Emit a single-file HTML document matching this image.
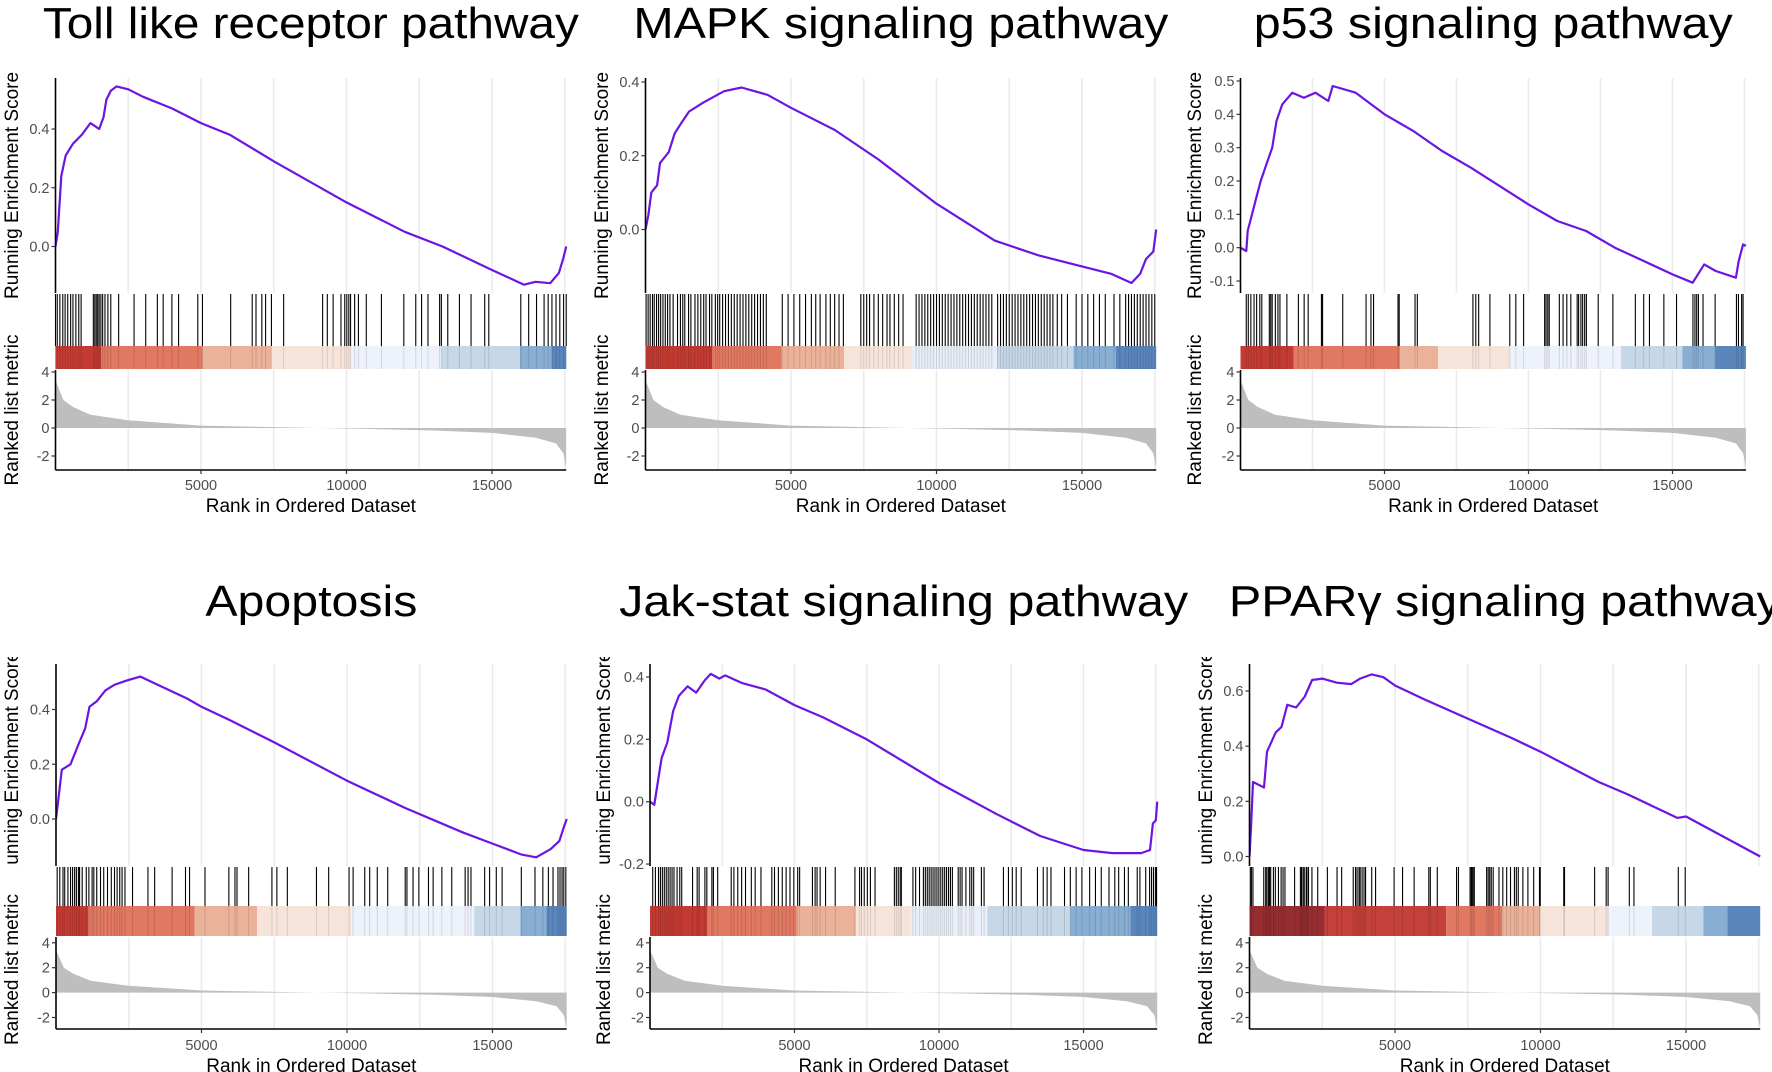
<!DOCTYPE html>
<html><head><meta charset="utf-8"><title>GSEA plots</title>
<style>
html,body{margin:0;padding:0;background:#fff;}
svg{display:block;font-family:"Liberation Sans",Arial,sans-serif;}
</style></head>
<body>
<svg id="fig" width="1772" height="1072" viewBox="0 0 1772 1072" xmlns="http://www.w3.org/2000/svg"></svg>
<script>
// ---------- shared data ----------
const xTicks = [5000, 10000, 15000];
const gridRanks = [2500, 5000, 7500, 10000, 12500, 15000, 17500];
const rankTicks = [-2, 0, 2, 4];
const metricRanks = [0, 40, 270, 600, 1200, 2500, 5000, 7800, 9000, 10500, 13000, 15000, 16500, 17200, 17450, 17550];
const metricValues = [3.4, 3.2, 2.0, 1.5, 0.95, 0.55, 0.17, 0.05, 0, -0.06, -0.18, -0.35, -0.7, -1.1, -1.8, -2.8];
const N = 17550;

// ---------- panel 1: Toll like receptor pathway ----------
const p1Title = "Toll like receptor pathway";
const p1EsRanks = [0, 80, 200, 350, 600, 900, 1200, 1500, 1650, 1750, 1900, 2100, 2500, 3000, 4000, 5000, 6000, 7500, 10000, 12000, 13300, 15000, 16100, 16500, 17000, 17300, 17450, 17550];
const p1EsValues = [0, 0.05, 0.24, 0.31, 0.35, 0.38, 0.42, 0.40, 0.44, 0.50, 0.53, 0.545, 0.535, 0.51, 0.47, 0.42, 0.38, 0.29, 0.15, 0.05, 0.0, -0.08, -0.13, -0.12, -0.125, -0.09, -0.04, 0.0];
const p1EsTicks = [0, 0.2, 0.4];
const p1Hits = [0, 60, 150, 250, 330, 420, 520, 600, 700, 800, 880, 1300, 1350, 1400, 1450, 1500, 1560, 1620, 1700, 1800, 1900, 2170, 2700, 3100, 3500, 3700, 4000, 4230, 4890, 5050, 6020, 6760, 6890, 7090, 7220, 7420, 7840, 9180, 9340, 9540, 9810, 9940, 10010, 10080, 10140, 10280, 10410, 10680, 11200, 11970, 12380, 12580, 12800, 13200, 13260, 13480, 13880, 14280, 14750, 14890, 15990, 16260, 16530, 16790, 16930, 17060, 17200, 17330, 17460, 17550];
const p1BandBreaks = [0, 1568, 5050, 7416, 10140, 13264, 15960, 17050, 17550];
const p1BandColors = ["#C33B33", "#E07862", "#EBB29A", "#F6E4DA", "#EEF2FB", "#C6D7E7", "#88AED3", "#5A86BC"];

// ---------- panel 2: MAPK ----------
const p2Title = "MAPK signaling pathway";
const p2EsRanks = [0, 100, 200, 400, 500, 800, 1000, 1200, 1500, 2000, 2700, 3300, 4200, 5000, 6500, 8000, 10000, 12000, 13500, 15000, 16000, 16700, 17000, 17200, 17450, 17550];
const p2EsValues = [0, 0.04, 0.1, 0.12, 0.18, 0.21, 0.26, 0.285, 0.32, 0.345, 0.375, 0.385, 0.365, 0.33, 0.27, 0.19, 0.07, -0.03, -0.07, -0.1, -0.12, -0.145, -0.12, -0.08, -0.06, 0.0];
const p2EsTicks = [0, 0.2, 0.4];
const p2Hits = [20, 90, 160, 240, 300, 380, 450, 520, 600, 680, 760, 840, 950, 1100, 1200, 1280, 1350, 1480, 1560, 1700, 1800, 1900, 2000, 2080, 2200, 2280, 2400, 2480, 2550, 2650, 2750, 2850, 2950, 3050, 3150, 3250, 3350, 3450, 3550, 3650, 3750, 3850, 3950, 4050, 4150, 4700, 4900, 5100, 5300, 5500, 5700, 5850, 6000, 6200, 6350, 6500, 6650, 6800, 7400, 7500, 7600, 7700, 7850, 8000, 8150, 8300, 8400, 8550, 8700, 8850, 9300, 9400, 9500, 9600, 9700, 9800, 9900, 10000, 10100, 10200, 10300, 10400, 10500, 10600, 10700, 10800, 10900, 11000, 11100, 11200, 11300, 11400, 11500, 11600, 11700, 11800, 11900, 12100, 12200, 12300, 12400, 12500, 12600, 12700, 12800, 12900, 13000, 13100, 13200, 13300, 13400, 13500, 13600, 13700, 13800, 13900, 14000, 14150, 14300, 14500, 14800, 15000, 15200, 15400, 15600, 15800, 16100, 16300, 16500, 16600, 16700, 16800, 16900, 17000, 17100, 17200, 17300, 17400, 17500];
const p2BandBreaks = [0, 2286, 4678, 6805, 9157, 12080, 14710, 16160, 17550];
const p2BandColors = ["#C33B33", "#E07862", "#EBB29A", "#F6E4DA", "#E9EDF8", "#C6D7E7", "#88AED3", "#5A86BC"];

// ---------- panel 3: p53 ----------
const p3Title = "p53 signaling pathway";
const p3EsRanks = [0, 200, 250, 400, 550, 700, 900, 1100, 1250, 1450, 1800, 2200, 2600, 3050, 3200, 4000, 5000, 6000, 7000, 8000, 10000, 11000, 12000, 13000, 14000, 15000, 15700, 16100, 16500, 17200, 17300, 17450, 17550];
const p3EsValues = [0, -0.01, 0.05, 0.1, 0.15, 0.2, 0.25, 0.3, 0.38, 0.43, 0.465, 0.45, 0.465, 0.44, 0.485, 0.465, 0.4, 0.35, 0.29, 0.24, 0.13, 0.08, 0.05, 0.0, -0.04, -0.08, -0.105, -0.05, -0.07, -0.09, -0.04, 0.01, 0.005];
const p3EsTicks = [-0.1, 0, 0.1, 0.2, 0.3, 0.4, 0.5];
const p3Hits = [200, 270, 360, 470, 560, 670, 740, 1000, 1050, 1100, 1210, 1300, 1370, 1610, 2010, 2210, 2350, 2810, 2850, 3550, 4360, 4530, 4620, 5470, 5510, 6060, 6140, 8070, 8170, 8270, 8660, 9350, 9560, 9830, 10560, 10610, 10670, 10720, 11070, 11200, 11330, 11470, 11690, 11740, 11820, 11880, 11950, 12010, 12420, 12930, 13710, 14000, 14200, 14700, 15140, 15710, 15780, 15840, 15900, 16060, 16480, 17220, 17290, 17400, 17450];
const p3BandBreaks = [0, 1850, 5530, 6860, 9340, 13210, 15340, 16480, 17550];
const p3BandColors = ["#C33B33", "#E07862", "#EBB29A", "#F6E4DA", "#EEF2FB", "#C6D7E7", "#88AED3", "#5A86BC"];

// ---------- panel 4: Apoptosis ----------
const p4Title = "Apoptosis";
const p4EsRanks = [0, 80, 200, 500, 800, 1000, 1150, 1400, 1700, 2000, 2400, 2900, 3500, 4500, 5000, 6000, 7500, 10000, 12000, 14000, 15000, 16000, 16500, 17000, 17300, 17450, 17550];
const p4EsValues = [0, 0.07, 0.18, 0.2, 0.28, 0.33, 0.41, 0.43, 0.47, 0.49, 0.505, 0.52, 0.49, 0.44, 0.41, 0.36, 0.28, 0.14, 0.04, -0.05, -0.09, -0.13, -0.14, -0.11, -0.08, -0.03, 0.0];
const p4EsTicks = [0, 0.2, 0.4];
const p4Hits = [40, 130, 240, 300, 410, 500, 570, 640, 700, 770, 810, 900, 1040, 1130, 1240, 1300, 1400, 1530, 1640, 1770, 1900, 2010, 2100, 2190, 2270, 2370, 2630, 3160, 3390, 3990, 4450, 4590, 5120, 5940, 6150, 6220, 6620, 7420, 7590, 7950, 8950, 9370, 10070, 10210, 10610, 10780, 11040, 11400, 12000, 12060, 12270, 12470, 12800, 12960, 13260, 13600, 14060, 14160, 14260, 14730, 14900, 15130, 15330, 15990, 16460, 16730, 16920, 17080, 17250, 17320, 17390, 17450, 17520];
const p4BandBreaks = [0, 1100, 4760, 6910, 10140, 14370, 15960, 16850, 17550];
const p4BandColors = ["#C33B33", "#E07862", "#EBB29A", "#F6E4DA", "#EEF2FB", "#C6D7E7", "#88AED3", "#5A86BC"];

// ---------- panel 5: Jak-stat ----------
const p5Title = "Jak-stat signaling pathway";
const p5EsRanks = [0, 150, 250, 400, 600, 800, 1000, 1300, 1600, 1900, 2100, 2400, 2600, 3200, 4000, 5000, 6000, 7500, 10000, 12000, 13500, 15000, 16000, 17000, 17300, 17400, 17500, 17550];
const p5EsValues = [0, -0.01, 0.05, 0.14, 0.19, 0.29, 0.34, 0.37, 0.35, 0.39, 0.41, 0.395, 0.405, 0.38, 0.36, 0.31, 0.27, 0.2, 0.06, -0.04, -0.11, -0.155, -0.165, -0.165, -0.155, -0.07, -0.06, 0.0];
const p5EsTicks = [-0.2, 0, 0.2, 0.4];
const p5Hits = [94, 187, 294, 361, 428, 495, 562, 629, 696, 763, 830, 937, 1030, 1097, 1472, 1632, 1699, 1900, 1967, 2141, 2194, 2342, 2810, 2903, 3037, 3171, 3305, 3506, 3639, 3840, 4215, 4308, 4442, 4576, 4710, 4844, 4977, 5111, 5178, 5620, 5713, 5780, 5887, 6075, 6409, 7091, 7252, 7319, 7413, 7520, 7627, 7787, 8456, 8523, 8590, 8657, 8697, 9098, 9192, 9326, 9460, 9527, 9594, 9660, 9727, 9794, 9861, 9928, 9995, 10062, 10129, 10196, 10262, 10330, 10396, 10463, 10664, 10731, 10798, 10931, 11065, 11132, 11199, 11467, 11560, 12229, 12403, 12537, 12671, 12845, 13407, 13607, 13741, 13875, 14343, 14544, 14745, 14945, 15213, 15414, 15614, 15882, 16083, 16217, 16417, 16551, 16859, 16952, 17153, 17287, 17354, 17421, 17488, 17528];
const p5BandBreaks = [0, 1970, 5080, 7120, 9020, 11670, 14540, 16620, 17550];
const p5BandColors = ["#C33B33", "#E07862", "#EBB29A", "#F6E4DA", "#EBEFF9", "#C6D7E7", "#88AED3", "#5A86BC"];

// ---------- panel 6: PPARγ ----------
const p6Title = "PPARγ signaling pathway";
const p6EsRanks = [0, 60, 120, 500, 600, 900, 1100, 1300, 1600, 1900, 2150, 2500, 3000, 3500, 3800, 4200, 4600, 5000, 6000, 7500, 9000, 10000, 12000, 13000, 14700, 15000, 17550];
const p6EsValues = [0, 0.12, 0.27, 0.25, 0.38, 0.45, 0.47, 0.55, 0.54, 0.58, 0.64, 0.645, 0.63, 0.625, 0.645, 0.66, 0.65, 0.62, 0.57, 0.5, 0.43, 0.38, 0.27, 0.225, 0.14, 0.145, 0.0];
const p6EsTicks = [0, 0.2, 0.4, 0.6];
const p6Hits = [27, 66, 119, 490, 556, 596, 649, 689, 729, 822, 888, 994, 1087, 1153, 1219, 1550, 1749, 1789, 1842, 1881, 1948, 1974, 2027, 2146, 2345, 2676, 3008, 3167, 3564, 3643, 3696, 3763, 3803, 3869, 3935, 3988, 4200, 4333, 4969, 5260, 5658, 6161, 6214, 6453, 7115, 7181, 7579, 7619, 7645, 7685, 7725, 8149, 8202, 8255, 8308, 8374, 8573, 8705, 8838, 8970, 9103, 9169, 9236, 9395, 9567, 9766, 9965, 9991, 10799, 10826, 11860, 12257, 12323, 13052, 13211, 14735, 14973];
const p6BandBreaks = [0, 2580, 6760, 8680, 9990, 12320, 13830, 15600, 16420, 17550];
const p6BandColors = ["#962D30", "#C4403A", "#E07862", "#EBB29A", "#F6E4DA", "#EEF2FB", "#C6D7E7", "#88AED3", "#5A86BC"];

// ---------- layout (geometry only) ----------
const topRow = {titleY:38, esTop:78, esBot:293, colTop:346, colBot:369, rkTop:370, rkBot:470, rk0:428, rkUnit:14, tickY:490, axTitleY:512, yTitleClip:[60,300]};
const botRow = {titleY:616, esTop:664, esBot:866, colTop:906, colBot:936, rkTop:937, rkBot:1029, rk0:992.6, rkUnit:12.45, tickY:1050, axTitleY:1072, yTitleClip:[657,866]};
const panels = [
  {id:'toll', title:p1Title, tlen:536, es:[p1EsRanks,p1EsValues], ticks:p1EsTicks, hits:p1Hits, bb:p1BandBreaks, bc:p1BandColors, row:topRow, x0:55.5, xs:0.0291, esRef:[0,246.5,0.4,129], yT:11},
  {id:'mapk', title:p2Title, tlen:535, es:[p2EsRanks,p2EsValues], ticks:p2EsTicks, hits:p2Hits, bb:p2BandBreaks, bc:p2BandColors, row:topRow, x0:645.5, xs:0.0291, esRef:[0,229.5,0.4,82], yT:601},
  {id:'p53', title:p3Title, tlen:479, es:[p3EsRanks,p3EsValues], ticks:p3EsTicks, hits:p3Hits, bb:p3BandBreaks, bc:p3BandColors, row:topRow, x0:1240.5, xs:0.0288, esRef:[0,247.7,0.5,81], yT:1194},
  {id:'apoptosis', title:p4Title, tlen:212, es:[p4EsRanks,p4EsValues], ticks:p4EsTicks, hits:p4Hits, bb:p4BandBreaks, bc:p4BandColors, row:botRow, x0:56, xs:0.0291, esRef:[0,819,0.4,709.5], yT:11},
  {id:'jak-stat', title:p5Title, tlen:569, es:[p5EsRanks,p5EsValues], ticks:p5EsTicks, hits:p5Hits, bb:p5BandBreaks, bc:p5BandColors, row:botRow, x0:650, xs:0.0289, esRef:[0,801.7,0.4,677], yT:603},
  {id:'ppar', title:p6Title, tlen:552, es:[p6EsRanks,p6EsValues], ticks:p6EsTicks, hits:p6Hits, bb:p6BandBreaks, bc:p6BandColors, row:botRow, x0:1249.5, xs:0.0291, esRef:[0,856.5,0.6,691], yT:1205}
];

const NS = 'http://www.w3.org/2000/svg';
const svg = document.getElementById('fig');
function mk(tag, attrs, parent, text){
  const e = document.createElementNS(NS, tag);
  for (const k in attrs) e.setAttribute(k, attrs[k]);
  if (text !== undefined) e.textContent = text;
  (parent || svg).appendChild(e);
  return e;
}
const defs = mk('defs', {});

panels.forEach(function(p, i){
  const r = p.row;
  const g = mk('g', {});
  
  
  const xAt = v => p.x0 + v * p.xs;
  const xEnd = xAt(N);
  const k = (p.esRef[3] - p.esRef[1]) / (p.esRef[2] - p.esRef[0]);
  const yEs = v => p.esRef[1] + (v - p.esRef[0]) * k;
  const yRk = v => r.rk0 - v * r.rkUnit;
  const cx = (p.x0 + xEnd) / 2;

  // title
  const t = mk('text', {x:cx, y:r.titleY, 'text-anchor':'middle', 'font-size':44, fill:'#000', textLength:p.tlen, lengthAdjust:'spacingAndGlyphs'}, g, p.title);
  
  

  // clip paths
  const cEs = mk('clipPath', {id:'ces'+i}, defs);
  mk('rect', {x:p.x0, y:r.esTop, width:xEnd - p.x0 + 2, height:r.esBot - r.esTop}, cEs);
  const cRk = mk('clipPath', {id:'crk'+i}, defs);
  mk('rect', {x:p.x0, y:r.rkTop, width:xEnd - p.x0 + 1, height:r.rkBot - r.rkTop}, cRk);
  const cYt = mk('clipPath', {id:'cyt'+i}, defs);
  mk('rect', {x:p.yT - 20, y:r.yTitleClip[0], width:40, height:r.yTitleClip[1] - r.yTitleClip[0]}, cYt);

  // grid lines
  gridRanks.forEach(function(gr){
    const l1 = mk('line', {x1:xAt(gr), x2:xAt(gr), y1:r.esTop, y2:r.esBot, stroke:'#ebebeb', 'stroke-width':1.6}, g);
    
    
    const l2 = mk('line', {x1:xAt(gr), x2:xAt(gr), y1:r.rkTop, y2:r.rkBot, stroke:'#ebebeb', 'stroke-width':1.6}, g);
    
    
  });

  // ES curve
  const pts = p.es[0].map((rk, j) => xAt(rk).toFixed(1) + ',' + yEs(p.es[1][j]).toFixed(1)).join(' ');
  const es = mk('polyline', {points:pts, fill:'none', stroke:'#6c14e2', 'stroke-width':2.2, 'stroke-linejoin':'round', 'clip-path':'url(#ces'+i+')'}, g);
  
  

  // ES axis + ticks
  mk('line', {x1:p.x0, x2:p.x0, y1:r.esTop, y2:r.esBot, stroke:'#000', 'stroke-width':1.6}, g);
  p.ticks.forEach(function(v){
    const y = yEs(v);
    mk('line', {x1:p.x0 - 4, x2:p.x0, y1:y, y2:y, stroke:'#333', 'stroke-width':1.2}, g);
    const tl = mk('text', {x:p.x0 - 6, y:y + 5, 'text-anchor':'end', 'font-size':14.5, fill:'#4d4d4d'}, g, v.toFixed(1));
    
    
  });
  const yt = mk('text', {x:0, y:0, 'text-anchor':'middle', 'font-size':19, fill:'#000', transform:'translate(' + (p.yT + 7) + ',' + ((r.esTop + r.esBot) / 2) + ') rotate(-90)'}, mk('g', {'clip-path':'url(#cyt'+i+')'}, g), 'Running Enrichment Score');
  
  

  // color band
  p.bc.forEach(function(c, j){
    const x1 = xAt(p.bb[j]), x2 = xAt(p.bb[j + 1]);
    const b = mk('rect', {x:x1, y:r.colTop, width:Math.max(0, x2 - x1), height:r.colBot - r.colTop, fill:c}, g);
    
    
  });

  // hit lines
  p.hits.forEach(function(h){
    const x = xAt(h);
    const hl = mk('line', {x1:x, x2:x, y1:r.esBot + 1, y2:r.colTop, stroke:'#000', 'stroke-width':1.1}, g);
    
    
    mk('line', {x1:x, x2:x, y1:r.colTop, y2:r.colBot, stroke:'#000', 'stroke-width':1, 'stroke-opacity':0.12}, g);
  });

  // ranked metric area
  let d = 'M' + xAt(metricRanks[0]).toFixed(1) + ',' + yRk(0).toFixed(1);
  metricRanks.forEach((rk, j) => { d += ' L' + xAt(rk).toFixed(1) + ',' + yRk(metricValues[j]).toFixed(1); });
  d += ' L' + xAt(metricRanks[metricRanks.length - 1]).toFixed(1) + ',' + yRk(0).toFixed(1) + ' Z';
  const area = mk('path', {d:d, fill:'#bebebe', 'clip-path':'url(#crk'+i+')'}, g);
  
  

  // ranked axes
  mk('line', {x1:p.x0, x2:p.x0, y1:r.rkTop, y2:r.rkBot, stroke:'#000', 'stroke-width':1.6}, g);
  mk('line', {x1:p.x0, x2:xEnd, y1:r.rkBot, y2:r.rkBot, stroke:'#000', 'stroke-width':1.6}, g);
  rankTicks.forEach(function(v){
    const y = yRk(v);
    mk('line', {x1:p.x0 - 4, x2:p.x0, y1:y, y2:y, stroke:'#333', 'stroke-width':1.2}, g);
    const tl = mk('text', {x:p.x0 - 6, y:y + 5, 'text-anchor':'end', 'font-size':14.5, fill:'#4d4d4d'}, g, String(v));
    
    
  });
  const rt = mk('text', {x:0, y:0, 'text-anchor':'middle', 'font-size':19, fill:'#000', transform:'translate(' + (p.yT + 7) + ',' + ((r.colTop + r.rkBot) / 2 + 2) + ') rotate(-90)'}, g, 'Ranked list metric');
  
  

  xTicks.forEach(function(v){
    const x = xAt(v);
    mk('line', {x1:x, x2:x, y1:r.rkBot, y2:r.rkBot + 4, stroke:'#333', 'stroke-width':1.2}, g);
    const xl = mk('text', {x:x, y:r.tickY, 'text-anchor':'middle', 'font-size':14.5, fill:'#4d4d4d'}, g, String(v));
    
    
  });
  const xt = mk('text', {x:cx, y:r.axTitleY, 'text-anchor':'middle', 'font-size':19, fill:'#000'}, g, 'Rank in Ordered Dataset');
  
  
});
</script>
</body></html>
